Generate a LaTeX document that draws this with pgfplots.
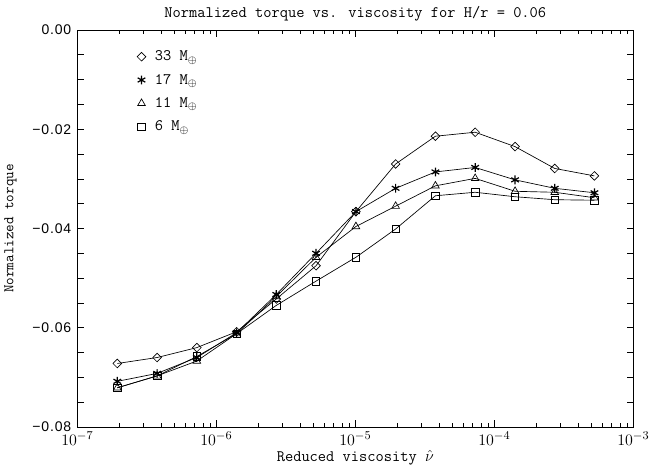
\documentclass[border=0pt]{standalone}
\usepackage{pgfplots}
\usepackage{pgfplotstable}
\pgfplotsset{compat=1.18}
\usepackage{fontspec}
\newfontfamily\helv[LetterSpace=6]{Liberation Sans}

% torque vs reduced viscosity, H/r = 0.06
\pgfplotstableread{
nu        m33      m17      m11      m6
1.94e-7  -0.0672  -0.0708  -0.0721  -0.0721
3.75e-7  -0.0660  -0.0692  -0.0697  -0.0697
7.24e-7  -0.0640  -0.0660  -0.0667  -0.0658
1.40e-6  -0.0608  -0.0610  -0.0612  -0.0612
2.70e-6  -0.0542  -0.0533  -0.0537  -0.0555
5.22e-6  -0.0475  -0.0450  -0.0458  -0.0506
1.01e-5  -0.0366  -0.0366  -0.0396  -0.0458
1.95e-5  -0.0270  -0.0319  -0.0355  -0.0401
3.77e-5  -0.0214  -0.0286  -0.0314  -0.0334
7.28e-5  -0.0206  -0.0277  -0.0299  -0.0327
1.41e-4  -0.0235  -0.0302  -0.0325  -0.0336
2.72e-4  -0.0279  -0.0319  -0.0327  -0.0342
5.25e-4  -0.0294  -0.0328  -0.0338  -0.0343
}\torque

\begin{document}
\begin{tikzpicture}
\begin{axis}[
  scale only axis,
  width=417pt, height=297.75pt,
  xmode=log,
  xmin=1e-7, xmax=1e-3,
  ymin=-0.08, ymax=0,
  scaled y ticks=false,
  axis line style={line width=0.6pt},
  tick align=inside,
  major tick length=5pt, minor tick length=3pt,
  tick style={black, line width=0.5pt},
  xtick={1e-7,1e-6,1e-5,1e-4,1e-3},
  ytick={-0.08,-0.075,-0.07,-0.065,-0.06,-0.055,-0.05,-0.045,-0.04,-0.035,-0.03,-0.025,-0.02,-0.015,-0.01,-0.005,0},
  yticklabels={−0.08,,,,−0.06,,,,−0.04,,,,−0.02,,,,0.00},
  yticklabel style={font=\helv\fontsize{10.5}{12}\selectfont, xshift=-1pt},
  xticklabel style={font=\fontsize{13}{14}\selectfont},
  title={Normalized torque vs. viscosity for H/r = 0.06},
  title style={font=\ttfamily\fontsize{12}{14}\selectfont, yshift=-3pt},
  xlabel={Reduced viscosity $\hat{\nu}$},
  xlabel style={font=\ttfamily\fontsize{12}{14}\selectfont, yshift=3pt},
  ylabel={Normalized torque},
  ylabel style={font=\ttfamily\fontsize{11}{13}\selectfont, yshift=5pt},
  every axis plot/.append style={black, line width=0.5pt},
  legend style={draw=none, fill=none, at={(0.1,0.962)}, anchor=north west,
    font=\ttfamily\fontsize{12}{14}\selectfont, row sep=4.5pt},
  legend cell align=left,
  legend image code/.code={\draw[#1, only marks] plot coordinates {(0cm,0cm)};
    \path[draw=none] (-3pt,0pt) -- (8pt,0pt);},
]
\addplot[mark=square, mark size=2.3pt, mark options={rotate=45, solid}] table[x=nu, y=m33] {\torque};
\addlegendentry{33 M$_\oplus$}
\addplot[mark=asterisk, mark size=3.3pt, mark options={line width=0.9pt}] table[x=nu, y=m17] {\torque};
\addlegendentry{17 M$_\oplus$}
\addplot[mark=triangle, mark size=3.3pt] table[x=nu, y=m11] {\torque};
\addlegendentry{11 M$_\oplus$}
\addplot[mark=square, mark size=2.8pt] table[x=nu, y=m6] {\torque};
\addlegendentry{6 M$_\oplus$}
\end{axis}
\pgfresetboundingbox
\path (-58pt,-30.2pt) rectangle (432.5pt,320.25pt);
\end{tikzpicture}
\end{document}
